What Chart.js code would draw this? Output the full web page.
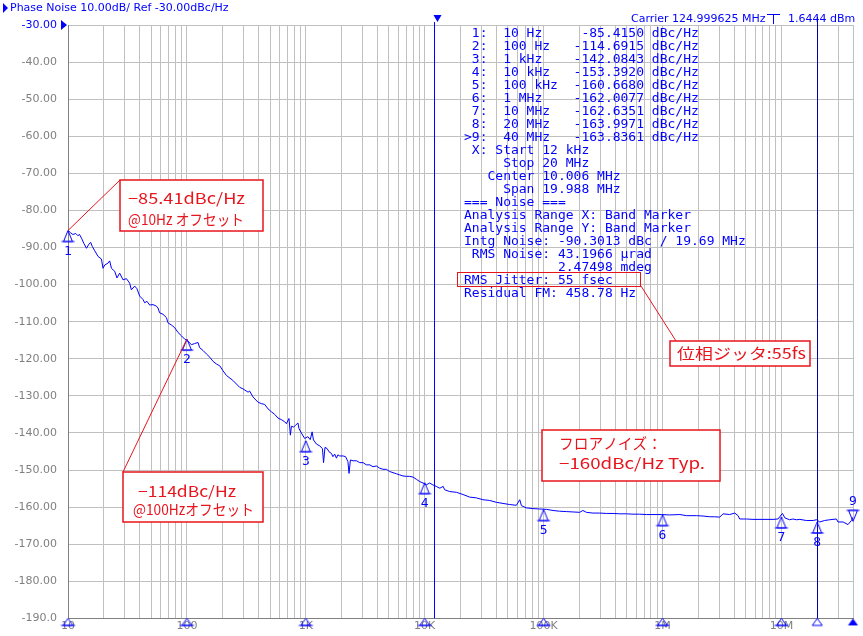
<!DOCTYPE html>
<html>
<head>
<meta charset="utf-8">
<script src="https://cdn.jsdelivr.net/npm/chart.js@4/dist/chart.umd.min.js"></script>
<style>
  html, body { margin: 0; padding: 0; background: #fff; }
  canvas { display: block; }
</style>
</head>
<body>
<canvas id="pn" width="863" height="636"></canvas>
<script>
// trace (offset Hz / dBc/Hz)
const traceFreq = [
  10, 10.5, 11.0, 11.6, 12.1, 12.5, 13.0, 13.6, 14.3, 15.0,
  15.5, 16.0, 16.8, 17.9, 19.1, 19.7, 20.4, 21.7, 22.4, 23.2,
  24.7, 25.8, 27.2, 29.0, 31.0, 33.0, 34.1, 36.4, 38.0, 40.1,
  42.7, 44.2, 46.1, 48.6, 51.9, 55.4, 57.1, 59.0, 63.0, 67.3,
  69.3, 74.1, 78.9, 84.2, 89.9, 95.8, 102, 109, 116, 124,
  128, 137, 146, 156, 166, 177, 189, 201, 215, 243,
  278, 296, 327, 337, 360, 396, 423, 451, 481, 514,
  548, 584, 623, 665, 687, 722, 742, 757, 791, 822,
  859, 876, 918, 979, 1040, 1090, 1130, 1160, 1230, 1310,
  1380, 1410, 1450, 1510, 1570, 1640, 1690, 1750, 1810, 1860,
  1930, 2060, 2160, 2260, 2310, 2370, 2500, 2670, 2840, 3030,
  3230, 3450, 3670, 3920, 4180, 4460, 4760, 5080, 5410, 5780,
  6160, 6570, 7020, 7480, 7980, 8520, 9080, 9680, 10300, 11000,
  11700, 12500, 13400, 14300, 14700, 16200, 18500, 21000, 23900, 27200,
  30900, 35200, 40100, 45600, 51900, 59000, 63000, 65100, 71600, 81400,
  92700, 106000, 120000, 136000, 156000, 177000, 201000, 214000, 229000, 260000,
  296000, 337000, 384000, 437000, 497000, 565000, 643000, 732000, 832000, 979000,
  1150000, 1400000, 1590000, 1930000, 2190000, 2500000, 2750000, 3030000, 3230000, 3670000,
  4050000, 4320000, 4460000, 5080000, 5770000, 7000000, 8490000, 9350000, 10200000, 10700000,
  11700000, 12500000, 13400000, 14300000, 16200000, 18500000, 19700000, 21000000, 23100000, 25500000,
  29000000, 29900000, 33000000, 36300000, 38800000, 40000000
];
const traceDbc = [
  -85.4, -86.0, -86.5, -86.2, -86.8, -86.5, -87.5, -88.9, -90.2, -89.1,
  -88.6, -89.7, -90.9, -92.4, -93.1, -95.6, -94.7, -94.2, -93.6, -95.6,
  -96.4, -98.2, -96.9, -98.7, -98.4, -99.6, -101.4, -100.4, -101.1, -103.1,
  -104.0, -104.9, -104.5, -105.5, -105.4, -105.8, -106.3, -107.6, -108.0, -108.9,
  -110.3, -110.9, -111.6, -112.9, -113.8, -114.7, -115.2, -116.2, -115.9, -115.6,
  -117.0, -117.8, -118.7, -119.6, -120.7, -121.4, -121.9, -123.2, -124.5, -125.8,
  -127.7, -128.1, -129.0, -128.7, -130.3, -131.7, -132.1, -132.3, -133.5, -134.3,
  -135.0, -136.0, -136.4, -137.0, -137.5, -136.1, -140.6, -138.2, -138.4, -137.9,
  -137.3, -138.8, -140.0, -141.5, -141.0, -141.8, -139.7, -141.9, -143.0, -143.5,
  -144.2, -148.0, -143.9, -144.2, -145.1, -145.5, -146.4, -145.7, -146.8, -145.9,
  -146.2, -146.2, -146.4, -147.7, -150.9, -147.3, -147.5, -147.5, -148.0, -148.0,
  -148.6, -148.6, -149.1, -148.9, -149.5, -149.8, -149.8, -150.4, -150.7, -151.0,
  -151.3, -151.6, -151.7, -151.7, -151.9, -152.5, -153.1, -153.5, -154.0, -153.5,
  -154.0, -154.4, -154.9, -154.4, -155.3, -155.8, -156.0, -156.6, -157.3, -157.5,
  -158.0, -158.2, -158.7, -159.0, -159.3, -159.5, -158.0, -159.6, -160.2, -160.4,
  -160.5, -160.6, -160.9, -161.1, -161.2, -161.3, -161.4, -160.9, -161.4, -161.6,
  -161.6, -161.7, -161.7, -161.8, -161.8, -161.9, -161.9, -162.0, -162.0, -162.0,
  -162.1, -162.0, -162.3, -162.3, -162.4, -162.6, -162.6, -162.7, -161.8, -162.0,
  -161.6, -162.3, -163.2, -163.2, -163.3, -163.3, -163.3, -163.2, -161.7, -162.9,
  -163.4, -163.2, -163.4, -163.3, -163.6, -163.6, -163.4, -164.0, -163.6, -163.4,
  -163.2, -164.0, -164.0, -164.7, -163.6, -162.7
];

// marker table
const markerFreq = [10, 100, 1e3, 1e4, 1e5, 1e6, 1e7, 2e7, 4e7];
const markerName = ['10 Hz', '100 Hz', '1 kHz', '10 kHz', '100 kHz', '1 MHz', '10 MHz', '20 MHz', '40 MHz'];
const markerDbc = [-85.4150, -114.6915, -142.0843, -153.3920, -160.6680, -162.0077, -162.6351, -163.9971, -163.8361];

// axis ticks
const decadeTicks = [10, 100, 1e3, 1e4, 1e5, 1e6, 1e7];
const decadeLabels = ['10', '100', '1K', '10K', '100K', '1M', '10M'];
const xMin = 10, xMax = 4e7;
const yMin = -190, yMax = -30, yStep = 10;

// noise band markers
const bandStart = 12e3;
const bandStop = 20e6;

const noiseLines = [
  ' X: Start 12 kHz',
  '     Stop 20 MHz',
  '   Center 10.006 MHz',
  '     Span 19.988 MHz',
  '=== Noise ===',
  'Analysis Range X: Band Marker',
  'Analysis Range Y: Band Marker',
  'Intg Noise: -90.3013 dBc / 19.69 MHz',
  ' RMS Noise: 43.1966 \u00b5rad',
  '            2.47498 mdeg',
  'RMS Jitter: 55 fsec',
  'Residual FM: 458.78 Hz'
];

const BLUE = '#0000ff';
const RED = '#e8141c';
const GRAY = '#808080';

const gridFreqs = [];
decadeTicks.forEach(d => {
  for (let m = 1; m <= 9; m++) if (d * m <= xMax) gridFreqs.push(d * m);
});

const tableLines = markerName.map((n, i) =>
  (i === markerName.length - 1 ? '>' : ' ') + (i + 1) + ':  ' + n.padEnd(9) +
  markerDbc[i].toFixed(4).padStart(9) + ' dBc/Hz'
).concat(noiseLines);

// triangle marker icons (apex sits on the point)
function tri(h, hw, down, filled, ext) {
  const c = document.createElement('canvas');
  c.width = 2 * (hw + ext) + 3;
  c.height = 2 * h + 4;
  const g = c.getContext('2d');
  const cx = c.width / 2, cy = c.height / 2;
  const by = down ? cy - h : cy + h;
  g.strokeStyle = g.fillStyle = BLUE;
  g.lineWidth = 1;
  g.beginPath();
  g.moveTo(cx, cy);
  g.lineTo(cx - hw, by);
  g.lineTo(cx + hw, by);
  g.closePath();
  if (filled) g.fill(); else g.stroke();
  if (ext) {
    g.beginPath();
    g.moveTo(cx - hw - ext, by);
    g.lineTo(cx + hw + ext, by);
    g.stroke();
  }
  return c;
}
const upMark = tri(11, 4.5, false, false, 2);
const downMark = tri(11, 4.5, true, false, 2);
const axisMark = tri(7, 5, false, false, 2);
const axisOpen = tri(7, 5, false, false, 0);
const axisFill = tri(7, 5, false, true, 0);

function fitText(ctx, s, x, y, w) {
  const m = ctx.measureText(s).width;
  ctx.save();
  ctx.translate(x, y);
  ctx.scale(w / m, 1);
  ctx.fillText(s, 0, 0);
  ctx.restore();
}

function seg(ctx, x1, y1, x2, y2) {
  ctx.beginPath();
  ctx.moveTo(x1, y1);
  ctx.lineTo(x2, y2);
  ctx.stroke();
}

const notes = [
  {box: [120, 180, 143, 51], to: 0, lines: [['\u221285.41dBc/Hz', 128, 198, 117], ['@10Hz \u30aa\u30d5\u30bb\u30c3\u30c8', 128, 219, 116]]},
  {box: [123, 472, 140, 50], to: 1, lines: [['\u2212114dBc/Hz', 138, 491, 98], ['@100Hz\u30aa\u30d5\u30bb\u30c3\u30c8', 133, 509, 121]]},
  {box: [542, 430, 178, 51], lines: [['\u30d5\u30ed\u30a2\u30ce\u30a4\u30ba\uff1a', 559, 443, 103], ['\u2212160dBc/Hz Typ.', 559, 463, 146]]},
  {box: [670, 341, 140, 25], lines: [['\u4f4d\u76f8\u30b8\u30c3\u30bf:55fs', 677, 353, 129]]}
];

const overlay = {
  id: 'overlay',
  beforeDatasetsDraw(chart) {
    const {ctx, chartArea: a, scales: {x}} = chart;
    ctx.save();
    ctx.lineWidth = 1;
    ctx.strokeStyle = BLUE;
    let px = Math.round(x.getPixelForValue(bandStart)) + 0.5;
    seg(ctx, px, a.top - 3, px, a.bottom);
    ctx.fillStyle = BLUE;
    ctx.beginPath();
    ctx.moveTo(px - 1, 15); ctx.lineTo(px + 7, 15); ctx.lineTo(px + 3, 22);
    ctx.fill();
    ctx.strokeStyle = '#0000a8';
    px = Math.round(x.getPixelForValue(bandStop)) + 0.5;
    seg(ctx, px, a.top - 8, px, a.bottom);
    ctx.restore();
  },
  afterDraw(chart) {
    const {ctx, chartArea: a} = chart;
    const pts = chart.getDatasetMeta(1).data;
    ctx.save();

    // header
    ctx.fillStyle = BLUE;
    ctx.beginPath(); ctx.moveTo(3, 3); ctx.lineTo(8, 8); ctx.lineTo(3, 13); ctx.fill();
    ctx.beginPath(); ctx.moveTo(61, 20); ctx.lineTo(67, 25); ctx.lineTo(61, 30); ctx.fill();
    ctx.font = '11px "DejaVu Sans"';
    ctx.textBaseline = 'middle';
    ctx.fillText('Phase Noise 10.00dB/ Ref -30.00dBc/Hz', 10, 8);
    ctx.fillText('Carrier 124.999625 MHz', 631, 19);
    ctx.fillText('1.6444 dBm', 788, 19);
    ctx.strokeStyle = BLUE;
    ctx.lineWidth = 1;
    seg(ctx, 767, 14.5, 780, 14.5);
    seg(ctx, 773.5, 14.5, 773.5, 24);

    // marker numbers
    ctx.font = '13px "DejaVu Sans Mono"';
    ctx.textAlign = 'center';
    pts.forEach((p, i) => {
      const dy = i === pts.length - 1 ? -20 : 21;
      ctx.fillText(String(i + 1), p.x, p.y + dy);
    });

    // marker / noise table
    ctx.textAlign = 'left';
    tableLines.forEach((s, i) => ctx.fillText(s, 464, 33.5 + 13 * i));

    // red annotations
    ctx.strokeStyle = RED;
    ctx.lineWidth = 1;
    ctx.strokeRect(457.5, 272.5, 183, 14);
    seg(ctx, 641, 286, 676, 341);
    notes.forEach(n => {
      const [bx, by, bw, bh] = n.box;
      if (n.to !== undefined) seg(ctx, bx, by, pts[n.to].x, pts[n.to].y);
      ctx.fillStyle = '#fff';
      ctx.fillRect(bx, by, bw, bh);
      ctx.lineWidth = 1.5;
      ctx.strokeRect(bx, by, bw, bh);
      ctx.lineWidth = 1;
      ctx.fillStyle = RED;
      ctx.font = '15px "Noto Sans CJK JP"';
      n.lines.forEach(([s, tx, ty, tw]) => fitText(ctx, s, tx, ty, tw));
    });
    ctx.restore();
  }
};

const trace = traceFreq.map((f, i) => ({x: f, y: traceDbc[i]}));
const markers = markerFreq.map((f, i) => ({x: f, y: markerDbc[i]}));
const axisFreqs = decadeTicks.concat([bandStop, xMax]);
const axisPts = axisFreqs.map(f => ({x: f, y: yMin}));

new Chart(document.getElementById('pn').getContext('2d'), {
  type: 'line',
  data: {
    datasets: [
      {data: trace, borderColor: BLUE, borderWidth: 1, pointRadius: 0, tension: 0},
      {data: markers, showLine: false, pointRadius: 5, clip: false,
       pointStyle: markers.map((m, i) => i === markers.length - 1 ? downMark : upMark)},
      {data: axisPts, showLine: false, pointRadius: 5, clip: false,
       pointStyle: axisPts.map((p, i) => i < decadeTicks.length ? axisMark : (i === axisPts.length - 1 ? axisFill : axisOpen))}
    ]
  },
  options: {
    responsive: false,
    animation: false,
    events: [],
    layout: {padding: {top: 25, right: 10, left: 0, bottom: 0}},
    plugins: {legend: {display: false}, tooltip: {enabled: false}},
    scales: {
      x: {
        type: 'logarithmic',
        min: xMin,
        max: xMax,
        afterBuildTicks: s => { s.ticks = gridFreqs.map(v => ({value: v})); },
        afterFit: s => { s.height = 13; },
        grid: {color: '#c0c0c0', drawTicks: false},
        border: {color: GRAY},
        ticks: {
          autoSkip: false,
          maxRotation: 0,
          padding: 1,
          color: GRAY,
          font: {family: 'DejaVu Sans', size: 11},
          callback: v => {
            const k = decadeTicks.indexOf(v);
            return k < 0 ? '' : decadeLabels[k];
          }
        }
      },
      y: {
        min: yMin,
        max: yMax,
        afterFit: s => { s.width = 68; },
        grid: {color: '#c0c0c0', drawTicks: false},
        border: {color: GRAY},
        ticks: {
          stepSize: yStep,
          padding: 11,
          color: c => (c.tick && c.tick.value === yMax ? BLUE : GRAY),
          font: {family: 'DejaVu Sans', size: 11},
          callback: v => (v === yMin ? v.toFixed(1) : v.toFixed(2))
        }
      }
    }
  },
  plugins: [overlay]
});
</script>
</body>
</html>
